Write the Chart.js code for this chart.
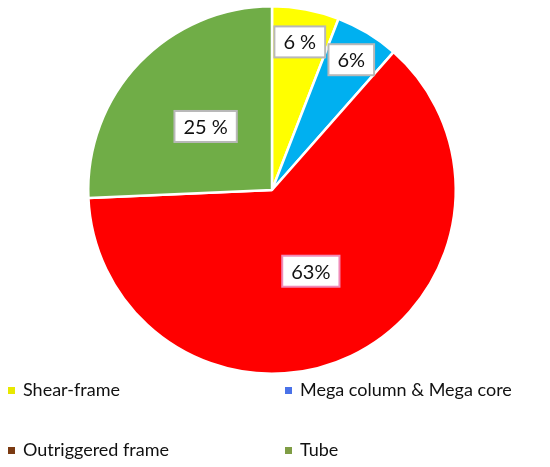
<!DOCTYPE html>
<html lang="en">
<head>
    <meta charset="UTF-8">
    <title>Structural systems share</title>
    <script src="https://cdn.jsdelivr.net/npm/chart.js"></script>
    <style>
        body {
            margin: 0;
            padding: 0;
            background: #ffffff;
            font-family: Lato, "Open Sans", sans-serif;
        }

        .wrap {
            position: relative;
            width: 550px;
            height: 467px;
        }

        /* legend laid out as a 2x2 grid like the original */
        .legend {
            position: absolute;
            left: 0;
            top: 0;
            width: 550px;
            height: 467px;
            pointer-events: none;
        }

        .legend-item {
            position: absolute;
            font-size: 18px;
            color: #111;
            white-space: nowrap;
            line-height: 20px;
        }

        .legend-item span.box {
            display: inline-block;
            width: 7px;
            height: 7px;
            margin-right: 8px;
            vertical-align: 2px;
        }
    </style>
</head>
<body>

<div class="wrap">
    <canvas id="pieChart" width="550" height="467"></canvas>
    <div class="legend" id="legend"></div>
</div>

<script>
    // chart data
    const categories = ['Shear-frame', 'Mega column & Mega core', 'Outriggered frame', 'Tube'];
    const shares = [5.9, 5.6, 62.8, 25.7];
    const shareLabels = ['6 %', '6%', '63%', '25 %'];

    const sliceColors = ['#ffff00', '#00b0f0', '#ff0000', '#70ad47'];
    const legendColors = ['#e8e800', '#4a72e8', '#7b3a12', '#7f9d45'];

    // where the boxed labels sit, as a fraction of the radius
    const labelRadius = [0.82, 0.83, 0.49, 0.5];
    const legendSpots = [[8, 379], [285, 379], [8, 439], [285, 439]];

    // boxed percentage labels
    const boxLabels = {
        id: 'boxLabels',
        afterDatasetsDraw(chart) {
            const ctx = chart.ctx;
            const meta = chart.getDatasetMeta(0);
            ctx.save();
            ctx.font = '20px Lato, "Open Sans", sans-serif';
            ctx.textAlign = 'center';
            ctx.textBaseline = 'middle';
            meta.data.forEach(function(arc, i) {
                const mid = (arc.startAngle + arc.endAngle) / 2;
                const r = arc.outerRadius * labelRadius[i];
                const x = arc.x + Math.cos(mid) * r;
                const y = arc.y + Math.sin(mid) * r;
                const text = shareLabels[i];
                const w = ctx.measureText(text).width + 18;
                const h = 31;
                ctx.fillStyle = '#ffffff';
                ctx.fillRect(x - w / 2, y - h / 2, w, h);
                ctx.strokeStyle = i === 2 ? '#f08ab8' : '#b8b8b8';
                ctx.lineWidth = 2;
                ctx.strokeRect(x - w / 2, y - h / 2, w, h);
                ctx.fillStyle = '#111111';
                ctx.fillText(text, x, y + 1);
            });
            ctx.restore();
        }
    };

    const pieCtx = document.getElementById('pieChart').getContext('2d');
    const pieChart = new Chart(pieCtx, {
        type: 'pie',
        data: {
            labels: categories,
            datasets: [{
                data: shares,
                backgroundColor: sliceColors,
                borderColor: '#ffffff',
                borderWidth: 2.5
            }]
        },
        options: {
            responsive: false,
            animation: false,
            layout: {
                padding: { left: 87, right: 93, top: 5, bottom: 92 }
            },
            plugins: {
                legend: { display: false },
                tooltip: { enabled: false }
            }
        },
        plugins: [boxLabels]
    });

    // html legend
    const legend = document.getElementById('legend');
    categories.forEach(function(name, i) {
        const item = document.createElement('div');
        item.className = 'legend-item';
        item.style.left = legendSpots[i][0] + 'px';
        item.style.top = legendSpots[i][1] + 'px';
        const box = document.createElement('span');
        box.className = 'box';
        box.style.background = legendColors[i];
        item.appendChild(box);
        item.appendChild(document.createTextNode(name));
        legend.appendChild(item);
    });
</script>

</body>
</html>
